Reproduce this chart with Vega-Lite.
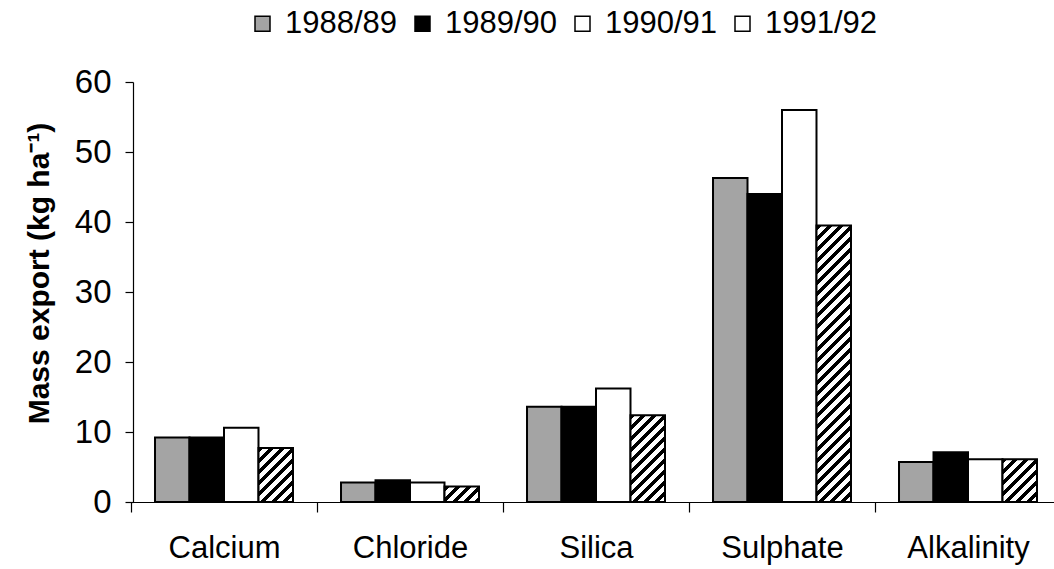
{
  "$schema": "https://vega.github.io/schema/vega-lite/v6.json",
  "autosize": "none",
  "width": 921,
  "height": 420,
  "padding": {"left": 133, "top": 82, "right": 0, "bottom": 67},
  "background": "white",
  "config": {
    "view": {"stroke": null},
    "font": "Liberation Sans",
    "axis": {"labelColor": "black", "titleColor": "black", "domainColor": "black", "tickColor": "black", "grid": false, "labelFont": "Liberation Sans", "titleFont": "Liberation Sans"},
    "legend": {"labelColor": "black", "labelFont": "Liberation Sans"}
  },
  "data": {
    "values": [
      {"element": "Calcium", "year": "1988/89", "value": 9.2},
      {"element": "Calcium", "year": "1989/90", "value": 9.2},
      {"element": "Calcium", "year": "1990/91", "value": 10.6},
      {"element": "Calcium", "year": "1991/92", "value": 7.7},
      {"element": "Chloride", "year": "1988/89", "value": 2.8},
      {"element": "Chloride", "year": "1989/90", "value": 3.1},
      {"element": "Chloride", "year": "1990/91", "value": 2.8},
      {"element": "Chloride", "year": "1991/92", "value": 2.2},
      {"element": "Silica", "year": "1988/89", "value": 13.6},
      {"element": "Silica", "year": "1989/90", "value": 13.6},
      {"element": "Silica", "year": "1990/91", "value": 16.2},
      {"element": "Silica", "year": "1991/92", "value": 12.4},
      {"element": "Sulphate", "year": "1988/89", "value": 46.3},
      {"element": "Sulphate", "year": "1989/90", "value": 44.0},
      {"element": "Sulphate", "year": "1990/91", "value": 56.0},
      {"element": "Sulphate", "year": "1991/92", "value": 39.5},
      {"element": "Alkalinity", "year": "1988/89", "value": 5.7},
      {"element": "Alkalinity", "year": "1989/90", "value": 7.1},
      {"element": "Alkalinity", "year": "1990/91", "value": 6.1},
      {"element": "Alkalinity", "year": "1991/92", "value": 6.1}
    ]
  },
  "mark": {"type": "bar", "stroke": "black", "strokeWidth": 2, "fillOpacity": 1},
  "encoding": {
    "x": {
      "field": "element", "type": "nominal",
      "sort": ["Calcium", "Chloride", "Silica", "Sulphate", "Alkalinity"],
      "scale": {"range": [-2, 928], "paddingInner": 0, "paddingOuter": 0},
      "axis": {"title": null, "labelAngle": 0, "labelFontSize": 31, "tickBand": "extent", "tickSize": 10, "labelPadding": 21, "domainWidth": 1.2, "tickWidth": 1.2}
    },
    "xOffset": {
      "field": "year", "type": "nominal",
      "sort": ["1988/89", "1989/90", "1990/91", "1991/92"],
      "scale": {"paddingInner": 0, "paddingOuter": 0.696}
    },
    "y": {
      "field": "value", "type": "quantitative",
      "scale": {"domain": [0, 60], "nice": false, "zero": true},
      "axis": {"title": "Mass export (kg ha⁻¹)", "titleFontSize": 30, "titleFontWeight": "bold", "titlePadding": 20, "titleY": 191, "labelFontSize": 33, "values": [0, 10, 20, 30, 40, 50, 60], "tickSize": 8, "labelPadding": 14, "domainWidth": 1.2, "tickWidth": 1.2}
    },
    "fill": {
      "field": "year", "type": "nominal",
      "scale": {"domain": ["1988/89", "1989/90", "1990/91", "1991/92"], "range": ["#a4a4a4", "#000000", "#ffffff", "#ffffff"]},
      "legend": {
        "title": null, "orient": "none", "legendX": 114, "legendY": -74, "direction": "horizontal",
        "symbolType": "square", "symbolSize": 225, "symbolStrokeWidth": 1.5, "symbolStrokeColor": "black",
        "labelFontSize": 31, "labelOffset": 7, "columnPadding": 9
      },
      "condition": [
        {"test": "datum.year === '1991/92' && datum.element === 'Calcium'", "value": {"gradient": "linear", "x1": 0, "y1": 0, "x2": 0.7447, "y2": 1.1634, "stops": [
          {"offset": 0, "color": "#000"}, {"offset": 0.05625, "color": "#000"}, {"offset": 0.05625, "color": "#fff"}, {"offset": 0.125, "color": "#fff"},
          {"offset": 0.125, "color": "#000"}, {"offset": 0.18125, "color": "#000"}, {"offset": 0.18125, "color": "#fff"}, {"offset": 0.25, "color": "#fff"},
          {"offset": 0.25, "color": "#000"}, {"offset": 0.30625, "color": "#000"}, {"offset": 0.30625, "color": "#fff"}, {"offset": 0.375, "color": "#fff"},
          {"offset": 0.375, "color": "#000"}, {"offset": 0.43125, "color": "#000"}, {"offset": 0.43125, "color": "#fff"}, {"offset": 0.5, "color": "#fff"},
          {"offset": 0.5, "color": "#000"}, {"offset": 0.55625, "color": "#000"}, {"offset": 0.55625, "color": "#fff"}, {"offset": 0.625, "color": "#fff"},
          {"offset": 0.625, "color": "#000"}, {"offset": 0.68125, "color": "#000"}, {"offset": 0.68125, "color": "#fff"}, {"offset": 0.75, "color": "#fff"},
          {"offset": 0.75, "color": "#000"}, {"offset": 0.80625, "color": "#000"}, {"offset": 0.80625, "color": "#fff"}, {"offset": 0.875, "color": "#fff"},
          {"offset": 0.875, "color": "#000"}, {"offset": 0.93125, "color": "#000"}, {"offset": 0.93125, "color": "#fff"}, {"offset": 1, "color": "#fff"}]}},
        {"test": "datum.year === '1991/92' && datum.element === 'Chloride'", "value": {"gradient": "linear", "x1": 0, "y1": 0, "x2": 1.2060, "y2": 0.5384, "stops": [
          {"offset": 0, "color": "#000"}, {"offset": 0.1, "color": "#000"}, {"offset": 0.1, "color": "#fff"}, {"offset": 0.2222, "color": "#fff"},
          {"offset": 0.2222, "color": "#000"}, {"offset": 0.3222, "color": "#000"}, {"offset": 0.3222, "color": "#fff"}, {"offset": 0.4444, "color": "#fff"},
          {"offset": 0.4444, "color": "#000"}, {"offset": 0.5444, "color": "#000"}, {"offset": 0.5444, "color": "#fff"}, {"offset": 0.6667, "color": "#fff"},
          {"offset": 0.6667, "color": "#000"}, {"offset": 0.7667, "color": "#000"}, {"offset": 0.7667, "color": "#fff"}, {"offset": 0.8889, "color": "#fff"},
          {"offset": 0.8889, "color": "#000"}, {"offset": 0.9889, "color": "#000"}, {"offset": 0.9889, "color": "#fff"}, {"offset": 1, "color": "#fff"}]}},
        {"test": "datum.year === '1991/92' && datum.element === 'Silica'", "value": {"gradient": "linear", "x1": 0, "y1": 0, "x2": 0.4797, "y2": 1.2068, "stops": [
          {"offset": 0, "color": "#000"}, {"offset": 0.0409, "color": "#000"}, {"offset": 0.0409, "color": "#fff"}, {"offset": 0.0909, "color": "#fff"},
          {"offset": 0.0909, "color": "#000"}, {"offset": 0.1318, "color": "#000"}, {"offset": 0.1318, "color": "#fff"}, {"offset": 0.1818, "color": "#fff"},
          {"offset": 0.1818, "color": "#000"}, {"offset": 0.2227, "color": "#000"}, {"offset": 0.2227, "color": "#fff"}, {"offset": 0.2727, "color": "#fff"},
          {"offset": 0.2727, "color": "#000"}, {"offset": 0.3136, "color": "#000"}, {"offset": 0.3136, "color": "#fff"}, {"offset": 0.3636, "color": "#fff"},
          {"offset": 0.3636, "color": "#000"}, {"offset": 0.4045, "color": "#000"}, {"offset": 0.4045, "color": "#fff"}, {"offset": 0.4545, "color": "#fff"},
          {"offset": 0.4545, "color": "#000"}, {"offset": 0.4955, "color": "#000"}, {"offset": 0.4955, "color": "#fff"}, {"offset": 0.5455, "color": "#fff"},
          {"offset": 0.5455, "color": "#000"}, {"offset": 0.5864, "color": "#000"}, {"offset": 0.5864, "color": "#fff"}, {"offset": 0.6364, "color": "#fff"},
          {"offset": 0.6364, "color": "#000"}, {"offset": 0.6773, "color": "#000"}, {"offset": 0.6773, "color": "#fff"}, {"offset": 0.7273, "color": "#fff"},
          {"offset": 0.7273, "color": "#000"}, {"offset": 0.7682, "color": "#000"}, {"offset": 0.7682, "color": "#fff"}, {"offset": 0.8182, "color": "#fff"},
          {"offset": 0.8182, "color": "#000"}, {"offset": 0.8591, "color": "#000"}, {"offset": 0.8591, "color": "#fff"}, {"offset": 0.9091, "color": "#fff"},
          {"offset": 0.9091, "color": "#000"}, {"offset": 0.95, "color": "#000"}, {"offset": 0.95, "color": "#fff"}, {"offset": 1, "color": "#fff"}]}},
        {"test": "datum.year === '1991/92' && datum.element === 'Sulphate'", "value": {"gradient": "linear", "x1": 0, "y1": 0, "x2": 0.1382, "y2": 1.1076, "stops": [
          {"offset": 0, "color": "#000"}, {"offset": 0.0161, "color": "#000"}, {"offset": 0.0161, "color": "#fff"}, {"offset": 0.0357, "color": "#fff"},
          {"offset": 0.0357, "color": "#000"}, {"offset": 0.0518, "color": "#000"}, {"offset": 0.0518, "color": "#fff"}, {"offset": 0.0714, "color": "#fff"},
          {"offset": 0.0714, "color": "#000"}, {"offset": 0.0875, "color": "#000"}, {"offset": 0.0875, "color": "#fff"}, {"offset": 0.1071, "color": "#fff"},
          {"offset": 0.1071, "color": "#000"}, {"offset": 0.1232, "color": "#000"}, {"offset": 0.1232, "color": "#fff"}, {"offset": 0.1429, "color": "#fff"},
          {"offset": 0.1429, "color": "#000"}, {"offset": 0.1589, "color": "#000"}, {"offset": 0.1589, "color": "#fff"}, {"offset": 0.1786, "color": "#fff"},
          {"offset": 0.1786, "color": "#000"}, {"offset": 0.1946, "color": "#000"}, {"offset": 0.1946, "color": "#fff"}, {"offset": 0.2143, "color": "#fff"},
          {"offset": 0.2143, "color": "#000"}, {"offset": 0.2304, "color": "#000"}, {"offset": 0.2304, "color": "#fff"}, {"offset": 0.25, "color": "#fff"},
          {"offset": 0.25, "color": "#000"}, {"offset": 0.2661, "color": "#000"}, {"offset": 0.2661, "color": "#fff"}, {"offset": 0.2857, "color": "#fff"},
          {"offset": 0.2857, "color": "#000"}, {"offset": 0.3018, "color": "#000"}, {"offset": 0.3018, "color": "#fff"}, {"offset": 0.3214, "color": "#fff"},
          {"offset": 0.3214, "color": "#000"}, {"offset": 0.3375, "color": "#000"}, {"offset": 0.3375, "color": "#fff"}, {"offset": 0.3571, "color": "#fff"},
          {"offset": 0.3571, "color": "#000"}, {"offset": 0.3732, "color": "#000"}, {"offset": 0.3732, "color": "#fff"}, {"offset": 0.3929, "color": "#fff"},
          {"offset": 0.3929, "color": "#000"}, {"offset": 0.4089, "color": "#000"}, {"offset": 0.4089, "color": "#fff"}, {"offset": 0.4286, "color": "#fff"},
          {"offset": 0.4286, "color": "#000"}, {"offset": 0.4446, "color": "#000"}, {"offset": 0.4446, "color": "#fff"}, {"offset": 0.4643, "color": "#fff"},
          {"offset": 0.4643, "color": "#000"}, {"offset": 0.4804, "color": "#000"}, {"offset": 0.4804, "color": "#fff"}, {"offset": 0.5, "color": "#fff"},
          {"offset": 0.5, "color": "#000"}, {"offset": 0.5161, "color": "#000"}, {"offset": 0.5161, "color": "#fff"}, {"offset": 0.5357, "color": "#fff"},
          {"offset": 0.5357, "color": "#000"}, {"offset": 0.5518, "color": "#000"}, {"offset": 0.5518, "color": "#fff"}, {"offset": 0.5714, "color": "#fff"},
          {"offset": 0.5714, "color": "#000"}, {"offset": 0.5875, "color": "#000"}, {"offset": 0.5875, "color": "#fff"}, {"offset": 0.6071, "color": "#fff"},
          {"offset": 0.6071, "color": "#000"}, {"offset": 0.6232, "color": "#000"}, {"offset": 0.6232, "color": "#fff"}, {"offset": 0.6429, "color": "#fff"},
          {"offset": 0.6429, "color": "#000"}, {"offset": 0.6589, "color": "#000"}, {"offset": 0.6589, "color": "#fff"}, {"offset": 0.6786, "color": "#fff"},
          {"offset": 0.6786, "color": "#000"}, {"offset": 0.6946, "color": "#000"}, {"offset": 0.6946, "color": "#fff"}, {"offset": 0.7143, "color": "#fff"},
          {"offset": 0.7143, "color": "#000"}, {"offset": 0.7304, "color": "#000"}, {"offset": 0.7304, "color": "#fff"}, {"offset": 0.75, "color": "#fff"},
          {"offset": 0.75, "color": "#000"}, {"offset": 0.7661, "color": "#000"}, {"offset": 0.7661, "color": "#fff"}, {"offset": 0.7857, "color": "#fff"},
          {"offset": 0.7857, "color": "#000"}, {"offset": 0.8018, "color": "#000"}, {"offset": 0.8018, "color": "#fff"}, {"offset": 0.8214, "color": "#fff"},
          {"offset": 0.8214, "color": "#000"}, {"offset": 0.8375, "color": "#000"}, {"offset": 0.8375, "color": "#fff"}, {"offset": 0.8571, "color": "#fff"},
          {"offset": 0.8571, "color": "#000"}, {"offset": 0.8732, "color": "#000"}, {"offset": 0.8732, "color": "#fff"}, {"offset": 0.8929, "color": "#fff"},
          {"offset": 0.8929, "color": "#000"}, {"offset": 0.9089, "color": "#000"}, {"offset": 0.9089, "color": "#fff"}, {"offset": 0.9286, "color": "#fff"},
          {"offset": 0.9286, "color": "#000"}, {"offset": 0.9446, "color": "#000"}, {"offset": 0.9446, "color": "#fff"}, {"offset": 0.9643, "color": "#fff"},
          {"offset": 0.9643, "color": "#000"}, {"offset": 0.9804, "color": "#000"}, {"offset": 0.9804, "color": "#fff"}, {"offset": 1, "color": "#fff"}]}},
        {"test": "datum.year === '1991/92' && datum.element === 'Alkalinity'", "value": {"gradient": "linear", "x1": 0, "y1": 0, "x2": 0.8838, "y2": 1.0939, "stops": [
          {"offset": 0, "color": "#000"}, {"offset": 0.0643, "color": "#000"}, {"offset": 0.0643, "color": "#fff"}, {"offset": 0.1429, "color": "#fff"},
          {"offset": 0.1429, "color": "#000"}, {"offset": 0.2071, "color": "#000"}, {"offset": 0.2071, "color": "#fff"}, {"offset": 0.2857, "color": "#fff"},
          {"offset": 0.2857, "color": "#000"}, {"offset": 0.35, "color": "#000"}, {"offset": 0.35, "color": "#fff"}, {"offset": 0.4286, "color": "#fff"},
          {"offset": 0.4286, "color": "#000"}, {"offset": 0.4929, "color": "#000"}, {"offset": 0.4929, "color": "#fff"}, {"offset": 0.5714, "color": "#fff"},
          {"offset": 0.5714, "color": "#000"}, {"offset": 0.6357, "color": "#000"}, {"offset": 0.6357, "color": "#fff"}, {"offset": 0.7143, "color": "#fff"},
          {"offset": 0.7143, "color": "#000"}, {"offset": 0.7786, "color": "#000"}, {"offset": 0.7786, "color": "#fff"}, {"offset": 0.8571, "color": "#fff"},
          {"offset": 0.8571, "color": "#000"}, {"offset": 0.9214, "color": "#000"}, {"offset": 0.9214, "color": "#fff"}, {"offset": 1, "color": "#fff"}]}}
      ]
    }
  }
}
